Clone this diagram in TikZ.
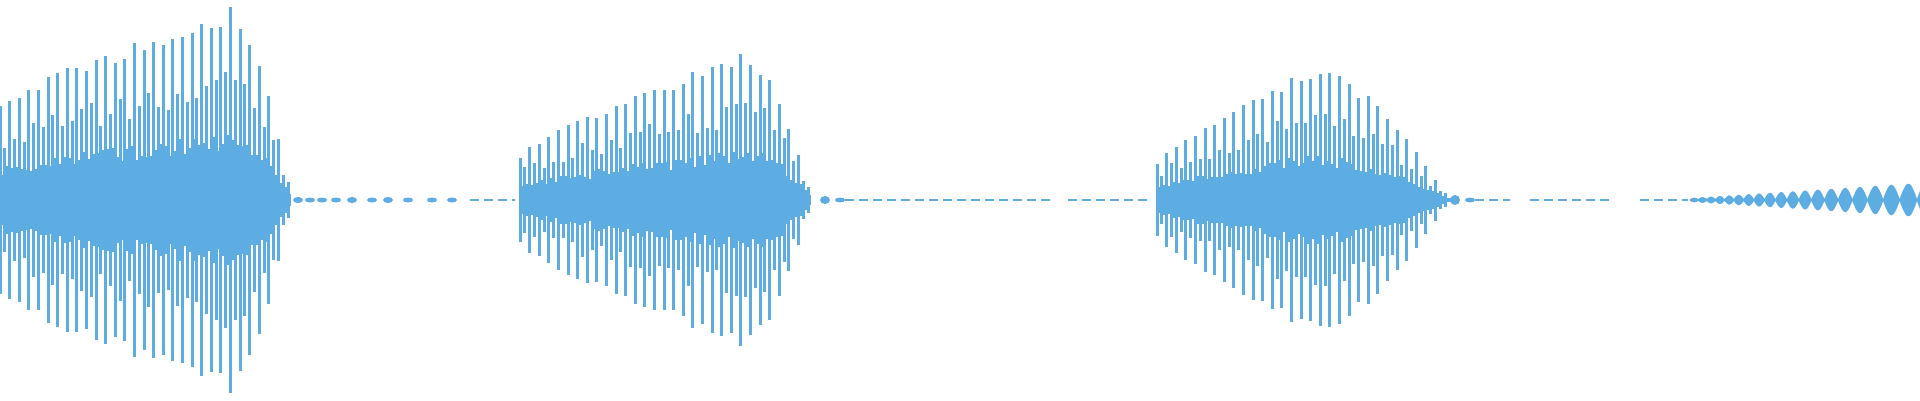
\documentclass[tikz,border=0pt]{standalone}
\begin{document}
\definecolor{wave}{RGB}{93,173,226}
\begin{tikzpicture}[x=1pt,y=1pt,
  spike/.style={wave,line width=3pt},
  thin spike/.style={wave,line width=1.8pt},
  trail/.style={wave,line width=1.6pt,dash pattern=on 9pt off 5pt}]
\useasboundingbox (0,0) rectangle (1920,400);
\pgfmathsetseed{7}
% #1 x0, #2 x1, #3 xpeak, #4 peak amp, #5 start amp
\newcommand\burstwave[5]{%
  \pgfmathsetmacro\nn{int((#2-#1)/4.8)}
  \foreach \i in {0,...,\nn}{
    \pgfmathsetmacro\xx{#1+4.8*\i}
    \pgfmathsetmacro\env{\xx<#3 ? #5+(#4-#5)*((\xx-#1)/(#3-#1))^0.8 : #4*cos(90*min(1,(\xx-#3)/(#2-#3)))}
    \pgfmathsetmacro\fac{mod(\i,2)==0 ? 0.9+0.1*rnd : 0.5+0.2*rnd}
    \pgfmathsetmacro\hh{max(2,\env*\fac)}
    \draw[spike] (\xx,{200-\hh}) -- (\xx,{200+\hh});
    \pgfmathsetmacro\cc{max(2,\env*(0.25+0.1*rnd))}
    \draw[thin spike] (\xx+2.4,{200-\cc}) -- (\xx+2.4,{200+\cc});
  }}
\burstwave{0}{292}{230}{195}{95}
\burstwave{520}{812}{745}{148}{45}
\burstwave{1157}{1450}{1310}{132}{40}
% small tails
\foreach \xx/\aa in {298/3,310/2.5,322/2.5,336/2.5,352/3,372/2.5,388/3,408/2.5,432/2.5,452/2.5,825/4,840/2.5}{
  \fill[wave] (\xx,200) ellipse ({5} and {\aa});}
\foreach \xx/\aa in {1455/5,1470/2.5}{\fill[wave] (\xx,200) ellipse (5 and \aa);}
\draw[trail] (470,200) -- (515,200);
\draw[trail] (845,200) -- (1050,200);
\draw[trail] (1068,200) -- (1152,200);
\draw[trail] (1475,200) -- (1510,200);
\draw[trail] (1530,200) -- (1610,200);
\draw[trail] (1640,200) -- (1688,200);
\fill[wave] plot[domain=0:1,samples=900,variable=\t] ({1690+230*\t},{200+1+(1+15*\t)*abs(sin(5175*\t/(1+0.5*\t)))})
  -- plot[domain=1:0,samples=900,variable=\t] ({1690+230*\t},{200-1-(1+15*\t)*abs(sin(5175*\t/(1+0.5*\t)))}) -- cycle;
\end{tikzpicture}
\end{document}
